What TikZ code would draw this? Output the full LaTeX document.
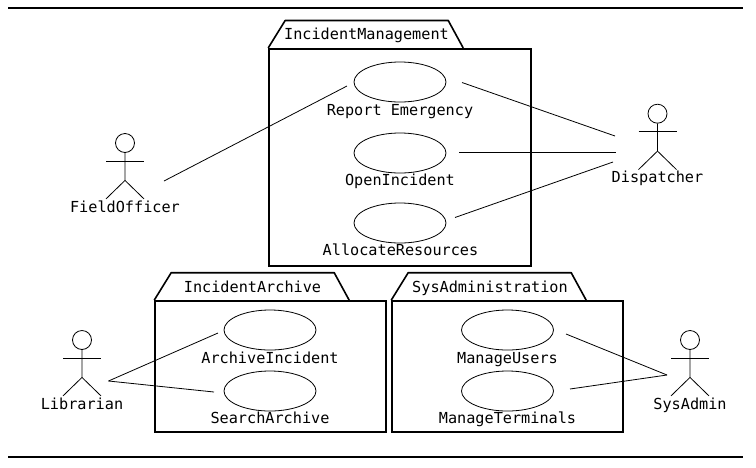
\documentclass[tikz,border=0pt]{standalone}
\usepackage{fontspec}
\setmonofont{DejaVu Sans Mono}
\usetikzlibrary{shapes.geometric}
\tikzset{
  usecase/.style={draw,ellipse,line width=0.8pt,minimum width=92pt,minimum height=40pt,inner sep=0pt},
  pkgbox/.style={draw,line width=1.6pt,inner sep=0pt,minimum width=#1},
  pkgline/.style={line width=1.6pt,line join=round},
  caption/.style={anchor=base,inner sep=0pt,font=\ttfamily\fontsize{15.2}{18}\selectfont},
  assoc/.style={line width=0.8pt},
  figrule/.style={line width=1.6pt}
}
% stick figure: name, x, y of the head centre, text below
\newcommand{\actor}[4]{
  \node[draw,circle,line width=0.8pt,minimum size=19pt,inner sep=0pt] (#1) at (#2,#3) {};
  \draw[line width=0.8pt] (#1.south) -- ++(0,27.5) coordinate (#1hip) -- ++(-19,18.5);
  \draw[line width=0.8pt] (#1hip) -- ++(19,18.5);
  \draw[line width=0.8pt] (#2-19,#3+18) -- (#2+19,#3+18);
  \node[caption] (#1name) at (#2,#3+69) {#4};
}
\begin{document}
\begin{tikzpicture}[x=1pt,y=-1pt]
  \useasboundingbox (0,0) rectangle (756,467);

  % Rules above and below the figure
  \coordinate (topL) at (8,8);
  \coordinate (topR) at (743,8);
  \coordinate (botL) at (8,457);
  \coordinate (botR) at (743,457);
  \draw[figrule] (topL) -- (topR);
  \draw[figrule] (botL) -- (botR);

  % Packages with their tabs
  \node[pkgbox=262pt,minimum height=217.5pt] (mgmt) at (400,157.5) {};
  \draw[pkgline] (mgmt.north west) -- ++(17,-27.5) -- ++(163,0) -- ++(15,27.5);
  \node[caption] (mgmttab) at (366.5,39.5) {IncidentManagement};

  \node[pkgbox=231pt,minimum height=131pt] (archive) at (270.5,366.5) {};
  \draw[pkgline] (archive.north west) -- ++(17,-27.5) -- ++(163,0) -- ++(15,27.5);
  \node[caption] (archivetab) at (252.5,292) {IncidentArchive};

  \node[pkgbox=231pt,minimum height=131pt] (sys) at (507.5,366.5) {};
  \draw[pkgline] (sys.north west) -- ++(17,-27.5) -- ++(163,0) -- ++(15,27.5);
  \node[caption] (systab) at (490,292) {SysAdministration};

  % Use cases
  \node[usecase] (report) at (400,82) {};
  \node[caption] (reportname) at (400,115) {Report Emergency};
  \node[usecase] (open) at (400,153) {};
  \node[caption] (openname) at (400,185.5) {OpenIncident};
  \node[usecase] (allocate) at (400,223) {};
  \node[caption] (allocatename) at (400.5,255.7) {AllocateResources};

  \node[usecase] (archiveinc) at (270,330) {};
  \node[caption] (archiveincname) at (270,363) {ArchiveIncident};
  \node[usecase] (search) at (270,391) {};
  \node[caption] (searchname) at (270,423.7) {SearchArchive};

  \node[usecase] (users) at (507.5,330) {};
  \node[caption] (usersname) at (507.5,363) {ManageUsers};
  \node[usecase] (terminals) at (507.5,391) {};
  \node[caption] (terminalsname) at (507.5,423.7) {ManageTerminals};

  % Actors
  \actor{officer}{125}{143}{FieldOfficer}
  \actor{dispatcher}{657.5}{113.7}{Dispatcher}
  \actor{librarian}{82}{340}{Librarian}
  \actor{sysadmin}{690}{340}{SysAdmin}

  % Free ends of the associations
  \coordinate (officerR) at (164,181);
  \coordinate (reportL) at (347,86);
  \coordinate (reportR) at (462,82.5);
  \coordinate (openR) at (459,152);
  \coordinate (allocateR) at (455,217.5);
  \coordinate (dispatcherA) at (615,136);
  \coordinate (dispatcherB) at (616,152);
  \coordinate (dispatcherC) at (613,162);
  \coordinate (librarianR) at (108.5,381);
  \coordinate (archiveincL) at (218,333);
  \coordinate (searchL) at (214,392);
  \coordinate (sysadminL) at (667,375);
  \coordinate (usersR) at (566,334);
  \coordinate (terminalsR) at (570,389);

  % Associations
  \draw[assoc] (officerR) -- (reportL);
  \draw[assoc] (reportR) -- (dispatcherA);
  \draw[assoc] (openR) -- (dispatcherB);
  \draw[assoc] (allocateR) -- (dispatcherC);
  \draw[assoc] (librarianR) -- (archiveincL);
  \draw[assoc] (librarianR) -- (searchL);
  \draw[assoc] (sysadminL) -- (usersR);
  \draw[assoc] (sysadminL) -- (terminalsR);
\end{tikzpicture}
\end{document}
